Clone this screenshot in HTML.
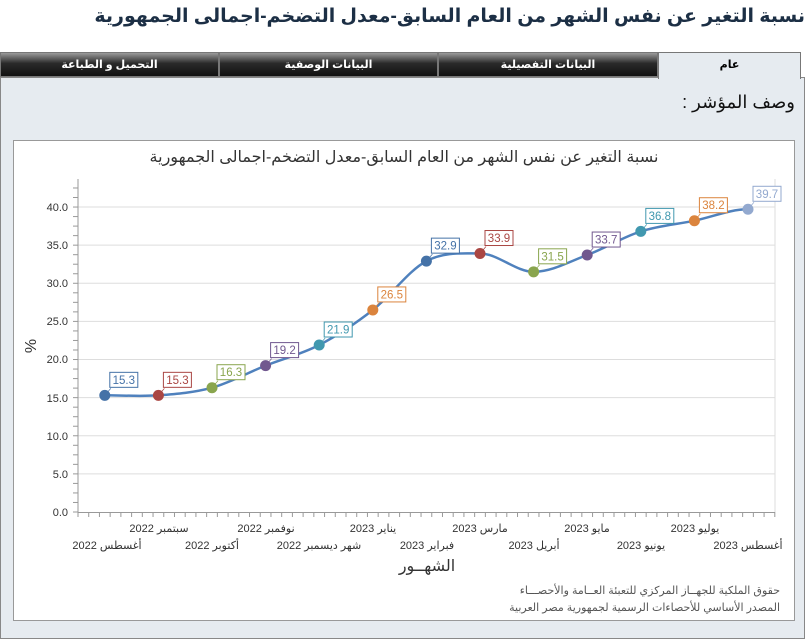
<!DOCTYPE html>
<html><head><meta charset="utf-8"><style>
body{margin:0;width:809px;height:631px;background:#fff;overflow:hidden;font-family:"Liberation Sans","DejaVu Sans",sans-serif;position:relative}
.title{position:absolute;right:4px;top:5px;font-size:19px;font-weight:bold;color:#1c2f45;direction:rtl;white-space:nowrap}
.panel{position:absolute;left:0;top:77px;width:803px;height:560px;background:#e6ebf0;border:1px solid #888;border-top:1px solid #888}
.tab{position:absolute;top:52px;height:25px;background:linear-gradient(#9a9a9a,#2a2a2a 45%,#111);color:#fff;font-size:11px;font-weight:bold;text-align:center;line-height:25px;border:1px solid #777;box-sizing:border-box;direction:rtl}
.tab.a{background:#e6ebf0;color:#000;height:27px;border-bottom:none}
.desc{position:absolute;right:14px;top:92px;font-size:18px;direction:rtl;color:#111}
.box{position:absolute;left:13px;top:140px;width:780px;height:479px;background:#fff;border:1px solid #999}
</style></head><body>
<div class="title">نسبة التغير عن نفس الشهر من العام السابق-معدل التضخم-اجمالى الجمهورية</div>
<div class="panel"></div>
<div class="tab" style="left:0;width:219px">التحميل و الطباعة</div>
<div class="tab" style="left:219px;width:219px">البيانات الوصفية</div>
<div class="tab" style="left:438px;width:220px">البيانات التفصيلية</div>
<div class="tab a" style="left:658px;width:143px">عام</div>
<div class="desc">وصف المؤشر :</div>
<div class="box"></div>
<svg width="809" height="631" style="position:absolute;left:0;top:0" font-family="Liberation Sans, DejaVu Sans, sans-serif">
<text x="404" y="162" text-anchor="middle" font-size="16" fill="#333" direction="rtl">نسبة التغير عن نفس الشهر من العام السابق-معدل التضخم-اجمالى الجمهورية</text>
<g stroke="#ddd" stroke-width="1">
<line x1="78" x2="775" y1="473.9" y2="473.9"/><line x1="78" x2="775" y1="435.8" y2="435.8"/><line x1="78" x2="775" y1="397.6" y2="397.6"/><line x1="78" x2="775" y1="359.5" y2="359.5"/><line x1="78" x2="775" y1="321.4" y2="321.4"/><line x1="78" x2="775" y1="283.3" y2="283.3"/><line x1="78" x2="775" y1="245.1" y2="245.1"/><line x1="78" x2="775" y1="207" y2="207"/>
<line x1="775" x2="775" y1="179" y2="512"/>
</g>
<g stroke="#999" stroke-width="1">
<line x1="78" x2="78" y1="179" y2="512"/><line x1="78" x2="775" y1="512.5" y2="512.5"/>
</g>
<g id="yt" stroke="#999"></g>
<g font-size="11" fill="#333" text-anchor="end">
<text x="68" y="516">0.0</text><text x="68" y="478">5.0</text><text x="68" y="440">10.0</text><text x="68" y="402">15.0</text><text x="68" y="363">20.0</text><text x="68" y="325">25.0</text><text x="68" y="287">30.0</text><text x="68" y="249">35.0</text><text x="68" y="211">40.0</text>
</g>
<text transform="translate(36,346) rotate(-90)" text-anchor="middle" font-size="16" fill="#333">%</text>
<path fill="none" stroke="#4f81bd" stroke-width="2.5" d="M104.8,395.3 C122.7,395.3 140.5,396.6 158.4,395.3 C176.3,394 194.1,392.6 212,387.7 C229.9,382.8 247.7,372.7 265.6,365.6 C283.5,358.5 301.3,354.3 319.2,345 C337.1,335.7 354.9,324 372.8,310 C390.7,296 408.5,270.5 426.4,261.1 C444.3,251.7 462.1,253.5 480,253.5 C497.9,253.5 515.7,271.8 533.6,271.8 C551.5,271.8 569.3,261.7 587.2,255 C605.1,248.3 622.9,237.1 640.8,231.4 C658.7,225.7 676.5,224.4 694.4,220.7 C712.3,217 730.1,209.3 748,209.3"/>
<g id="pts"></g>
<g font-size="11" fill="#333" text-anchor="middle" direction="rtl">
<text x="159" y="532">سبتمبر 2022</text><text x="266" y="532">نوفمبر 2022</text><text x="373" y="532">يناير 2023</text><text x="480" y="532">مارس 2023</text><text x="587" y="532">مايو 2023</text><text x="695" y="532">يوليو 2023</text>
<text x="107" y="549">أغسطس 2022</text><text x="212" y="549">أكتوبر 2022</text><text x="319" y="549">شهر ديسمبر 2022</text><text x="427" y="549">فبراير 2023</text><text x="534" y="549">أبريل 2023</text><text x="641" y="549">يونيو 2023</text><text x="748" y="549">أغسطس 2023</text>
</g>
<text x="427" y="571" text-anchor="middle" font-size="16" fill="#333" direction="rtl">الشهــور</text>
<g font-size="11" fill="#555" text-anchor="start" direction="rtl">
<text x="780" y="594">حقوق الملكية للجهــاز المركزي للتعبئة العــامة والأحصـــاء</text>
<text x="780" y="611">المصدر الأساسي للأحصاءات الرسمية لجمهورية مصر العربية</text>
</g>
</svg>
<script>
var ns="http://www.w3.org/2000/svg";
function el(t,a,p){var e=document.createElementNS(ns,t);for(var k in a)e.setAttribute(k,a[k]);p.appendChild(e);return e;}
var yt=document.getElementById('yt');
for(var i=0;i<=34;i++){var y=512-i*9.53;el('line',{x1:73,x2:78,y1:y,y2:y},yt);}
for(var i=0;i<=65;i++){var x=78+i*10.72;el('line',{x1:x,x2:x,y1:512,y2:517},yt);}
var v=[15.3,15.3,16.3,19.2,21.9,26.5,32.9,33.9,31.5,33.7,36.8,38.2,39.7];
var c=['#4572A7','#AA4643','#89A54E','#71588F','#4198AF','#DB843D','#4572A7','#AA4643','#89A54E','#71588F','#4198AF','#DB843D','#93A9CF'];
var g=document.getElementById('pts');
v.forEach(function(d,i){var x=104.8+i*53.6,y=512-d*7.625;
el('line',{x1:x,y1:y,x2:x+6,y2:y-7,stroke:c[i],'stroke-width':0.7},g);
el('circle',{cx:x,cy:y,r:5.5,fill:c[i]},g);
el('rect',{x:x+5,y:y-23,width:28,height:15,fill:'#fff',stroke:c[i],'stroke-width':1},g);
var t=el('text',{x:x+19,y:y-11.5,'text-anchor':'middle','font-size':11.5,fill:c[i]},g);t.textContent=d.toFixed(1);});
</script>
</body></html>
